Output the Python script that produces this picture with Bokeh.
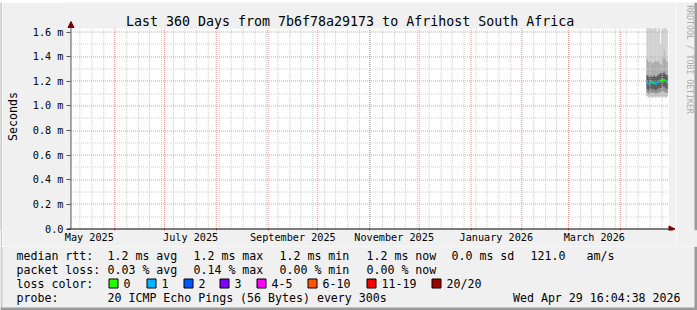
import math
import pandas as pd
from bokeh.plotting import figure
from bokeh.layouts import column, row
from bokeh.models import Arrow, NormalHead, DatetimeTickFormatter, FixedTicker, ColumnDataSource, Range1d
from bokeh.core.properties import value
from bokeh.embed import file_html
from bokeh.resources import INLINE

# ---------------- data ----------------
title_text = "Last 360 Days from 7b6f78a29173 to Afrihost South Africa"
watermark = "RRDTOOL / TOBI OETIKER"
x_start = "2025-05-05 11:00"
x_end = "2026-04-30 11:00"
now_stamp = "2026-04-29 16:04:38"

days = ["2026-04-17", "2026-04-18", "2026-04-19", "2026-04-20", "2026-04-21",
        "2026-04-22", "2026-04-23", "2026-04-24", "2026-04-25", "2026-04-26",
        "2026-04-27", "2026-04-28", "2026-04-29"]
median_ms = [1.185, 1.180, 1.190, 1.190, 1.185, 1.180, 1.190, 1.195, 1.205, 1.210, 1.210, 1.200, 1.190]
loss_pings = [1, 1, 1, 0, 1, 1, 1, 1, 0, 0, 0, 1, 0]
smoke_min = [1.08, 1.07, 1.08, 1.07, 1.08, 1.07, 1.08, 1.07, 1.08, 1.07, 1.08, 1.07, 1.08]
smoke_p10 = [1.11, 1.10, 1.11, 1.11, 1.11, 1.10, 1.11, 1.11, 1.12, 1.12, 1.12, 1.11, 1.11]
smoke_p25 = [1.14, 1.13, 1.14, 1.14, 1.14, 1.13, 1.14, 1.15, 1.15, 1.16, 1.16, 1.15, 1.14]
smoke_p75 = [1.25, 1.24, 1.25, 1.24, 1.25, 1.24, 1.25, 1.26, 1.27, 1.27, 1.28, 1.26, 1.25]
smoke_p90 = [1.38, 1.36, 1.37, 1.35, 1.36, 1.37, 1.36, 1.38, 1.34, 1.39, 1.46, 1.38, 1.36]
smoke_max = [1.66, 1.70, 1.64, 1.62, 1.66, 1.70, 1.60, 1.65, 1.50, 1.62, 1.68, 1.66, 1.62]

y_ticks = [0.0, 0.2, 0.4, 0.6, 0.8, 1.0, 1.2, 1.4, 1.6]
y_tick_labels = ["0.0", "0.2 m", "0.4 m", "0.6 m", "0.8 m", "1.0 m", "1.2 m", "1.4 m", "1.6 m"]
y_minor = [0.1, 0.3, 0.5, 0.7, 0.9, 1.1, 1.3, 1.5]
month_starts = ["2025-06-01", "2025-07-01", "2025-08-01", "2025-09-01",
                "2025-10-01", "2025-11-01", "2025-12-01", "2026-01-01", "2026-02-01",
                "2026-03-01", "2026-04-01"]
label_months = ["2025-05-01", "2025-07-01", "2025-09-01", "2025-11-01", "2026-01-01", "2026-03-01"]
first_sunday = "2025-05-11"

loss_colors = ["#26ff00", "#00b8ff", "#0059ff", "#7e00ff", "#ff00ff", "#ff5500", "#ff0000", "#a10000"]
loss_labels = ["0", "1", "2", "3", "4-5", "6-10", "11-19", "20/20"]

stats_rtt = ["1.2 ms avg", "1.2 ms max", "1.2 ms min", "1.2 ms now", "0.0 ms sd", "121.0", "am/s"]
stats_loss = ["0.03 % avg", "0.14 % max", "0.00 % min", "0.00 % now"]
probe_text = "20 ICMP Echo Pings (56 Bytes) every 300s"
stamp_text = "Wed Apr 29 16:04:38 2026"

# ---------------- geometry (canvas pixels) ----------------
W, H = 697, 310
MONO = "DejaVu Sans Mono"
BG = "#f0f0f0"
SHADE_A = "#cbcbcb"
SHADE_B = "#9a9a9a"
ROW_TOP, ROW_BOT = 2, 246          # main row spans canvas y 2..246
MAIN_L, MAIN_R = 2, 676            # main figure spans canvas x 2..676
FR_L, FR_R, FR_T, FR_B = 63, 675, 2, 230   # main frame in canvas px
AX_X, AX_Y = 67.5, 228.5           # axis lines (value origin)
PX_PER_MS_Y = 197.0 / 1.6          # pixels per millisecond of rtt
TEXT_DY = -3                       # baseline correction for text glyphs
X0 = pd.Timestamp(x_start).value / 1e6
X1 = pd.Timestamp(x_end).value / 1e6
MS_PER_PX_X = (X1 - X0) / 601.0


def ms(t):
    return pd.Timestamp(t).value / 1e6


def mx(px):
    return X0 + (px - AX_X) * MS_PER_PX_X


def my(py):
    return (AX_Y - py) / PX_PER_MS_Y


def snap_x(t):
    # rrdtool puts grid lines on whole pixel columns
    return mx(math.floor(AX_X + (t - X0) / MS_PER_PX_X) + 0.5)


def snap_y(v):
    return my(math.floor(AX_Y - v * PX_PER_MS_Y) + 0.5)


y_clip = my(28)

# ---------------- main chart ----------------
p = figure(width=MAIN_R - MAIN_L, height=ROW_BOT - ROW_TOP, output_backend="svg",
           toolbar_location=None, title=None, x_axis_type="datetime",
           x_range=Range1d(mx(FR_L), mx(FR_R)), y_range=Range1d(my(FR_B), my(FR_T)),
           min_border_left=FR_L - MAIN_L, min_border_right=MAIN_R - FR_R,
           min_border_top=FR_T - ROW_TOP, min_border_bottom=ROW_BOT - FR_B,
           background_fill_color=BG, border_fill_color=BG, outline_line_color=None)
p.xgrid.visible = False
p.ygrid.visible = False

# white canvas
p.quad(left=[X0], right=[X1], bottom=[0], top=[y_clip], fill_color="#ffffff",
       line_color=None, level="image")

# smoke
lefts = [ms(d) for d in days]
rights = [min(ms(d) + 86400000, ms(now_stamp)) for d in days]
src = ColumnDataSource(dict(left=lefts, right=rights, mn=smoke_min, p10=smoke_p10,
                            p25=smoke_p25, p75=smoke_p75, p90=smoke_p90,
                            mx=[min(v, y_clip) for v in smoke_max],
                            med_lo=[m - 0.009 for m in median_ms],
                            med_hi=[m + 0.009 for m in median_ms],
                            col=[loss_colors[l] for l in loss_pings]))
bands = [("mn", "p10", "#c2c2c2"), ("p10", "p25", "#909090"), ("p25", "p75", "#5c5c5c"),
         ("p75", "p90", "#acacac"), ("p90", "mx", "#d2d2d2")]
for lo, hi, c in bands:
    p.quad(left="left", right="right", bottom=lo, top=hi, source=src,
           fill_color=c, line_color=c, line_width=0.6, level="image")

# dotted grid lines (drawn over the smoke, as rrdtool does)
week_ticks = [snap_x(ms(t)) for t in pd.date_range(first_sunday, x_end, freq="7D")]
month_ticks_raw = [ms(t) for t in month_starts]
month_ticks = [snap_x(t) for t in month_ticks_raw]
minor_y = [snap_y(v) for v in y_minor]
major_y = [snap_y(v) for v in y_ticks[1:]]
GRID = "#cdcdcd"
MGRID = "#f09494"
p.segment(x0=week_ticks, x1=week_ticks, y0=[0] * len(week_ticks), y1=[y_clip] * len(week_ticks),
          line_color=GRID, line_width=1, line_dash="1 1", level="underlay")
p.segment(x0=[X0] * len(minor_y), x1=[X1] * len(minor_y), y0=minor_y, y1=minor_y,
          line_color=GRID, line_width=1, line_dash="1 1", level="underlay")
p.segment(x0=month_ticks, x1=month_ticks, y0=[0] * len(month_ticks), y1=[y_clip] * len(month_ticks),
          line_color=MGRID, line_width=1, line_dash="1 1", level="underlay")
p.segment(x0=[X0] * len(major_y), x1=[X1] * len(major_y), y0=major_y, y1=major_y,
          line_color=MGRID, line_width=1, line_dash="1 1", level="underlay")

# median line coloured by loss
p.quad(left="left", right="right", bottom="med_lo", top="med_hi", source=src,
       fill_color="col", line_color=None)

# title
p.text(x=[mx(348)], y=[my(24 + TEXT_DY)], text=[title_text], text_align="center",
       text_baseline="alphabetic", text_font=value(MONO), text_font_size="13.3px",
       text_color="#000000", level="annotation")

# axes
label_ticks = []
for m in label_months:
    a = pd.Timestamp(m)
    b = a + pd.offsets.MonthBegin(1)
    label_ticks.append(ms(a + (b - a) / 2))

xa = p.xaxis[0]
xa.ticker = FixedTicker(ticks=label_ticks, minor_ticks=month_ticks)
fmt = "%B %Y"
xa.formatter = DatetimeTickFormatter(microseconds=fmt, milliseconds=fmt, seconds=fmt,
                                     minsec=fmt, minutes=fmt, hourmin=fmt, hours=fmt,
                                     days=fmt, months=fmt, years=fmt)
xa.major_tick_out = 0
xa.major_tick_in = 0
xa.minor_tick_out = 0
xa.minor_tick_in = 2
xa.minor_tick_line_color = "#e07070"
xa.axis_line_color = None
xa.major_label_text_font = MONO
xa.major_label_text_font_size = "10.2px"
xa.major_label_text_color = "#000000"
xa.major_label_standoff = 1

ya = p.yaxis[0]
ya.ticker = FixedTicker(ticks=y_ticks)
ya.major_label_overrides = dict(zip(y_ticks, y_tick_labels))
ya.major_tick_out = 0
ya.major_tick_in = 4
ya.minor_tick_out = 0
ya.minor_tick_in = 0
ya.major_tick_line_color = "#555555"
ya.axis_line_color = None
ya.major_label_text_font = MONO
ya.major_label_text_font_size = "10.2px"
ya.major_label_text_color = "#000000"
ya.major_label_standoff = 3
ya.axis_label = "Seconds"
ya.axis_label_text_font = MONO
ya.axis_label_text_font_size = "11.6px"
ya.axis_label_text_font_style = "normal"
ya.axis_label_text_color = "#000000"
ya.axis_label_standoff = 10

p.add_layout(Arrow(end=NormalHead(size=6, fill_color="#7f0000", line_color="#7f0000"),
                   x_start=X0, y_start=0, x_end=X0, y_end=my(21),
                   line_color="#555555", line_width=1))
p.add_layout(Arrow(end=NormalHead(size=6, fill_color="#7f0000", line_color="#7f0000"),
                   x_start=mx(63), y_start=0, x_end=mx(674.5), y_end=0,
                   line_color="#000000", line_width=1))


# ---------------- helper for plain pixel panels ----------------
def panel(x0, x1, y0, y1, fill=BG):
    f = figure(width=x1 - x0, height=y1 - y0, output_backend="svg", toolbar_location=None,
               title=None, x_axis_location=None, y_axis_location=None,
               x_range=Range1d(x0, x1), y_range=Range1d(y1, y0),
               min_border=0, min_border_left=0, min_border_right=0,
               min_border_top=0, min_border_bottom=0,
               background_fill_color=fill, border_fill_color=fill, outline_line_color=None)
    f.xgrid.visible = False
    f.ygrid.visible = False
    return f


top_strip = panel(0, W, 0, ROW_TOP, SHADE_A)
top_strip.quad(left=[W - 3], right=[W], top=[0], bottom=[ROW_TOP], fill_color=SHADE_B, line_color=None)
left_strip = panel(0, MAIN_L, ROW_TOP, ROW_BOT, SHADE_A)
left_strip.quad(left=[0], right=[MAIN_L], top=[ROW_TOP], bottom=[ROW_BOT], fill_color=SHADE_A, line_color=None)

right_strip = panel(MAIN_R, W, ROW_TOP, ROW_BOT)
right_strip.quad(left=[W - 3], right=[W], top=[ROW_TOP], bottom=[ROW_BOT], fill_color=SHADE_B, line_color=None)
right_strip.text(x=[689], y=[5], text=[watermark], angle=-math.pi / 2, text_align="left",
                 text_baseline="middle", text_font=value(MONO), text_font_size="8.2px",
                 text_color="#ababab")

leg = panel(0, W, ROW_BOT, H)
leg.quad(left=[0], right=[2], top=[ROW_BOT], bottom=[H], fill_color=SHADE_A, line_color=None)
leg.quad(left=[W - 3], right=[W], top=[ROW_BOT], bottom=[H], fill_color=SHADE_B, line_color=None)
leg.quad(left=[0], right=[W], top=[H - 3], bottom=[H], fill_color=SHADE_B, line_color=None)

rows_y = [258 + TEXT_DY, 272 + TEXT_DY, 286 + TEXT_DY, 300 + TEXT_DY]
col_x = [107, 193, 279, 366, 451, 530, 586]
tx, ty, tt = [], [], []


def put(x, y, s):
    tx.append(x)
    ty.append(y)
    tt.append(s)


put(16, rows_y[0], "median rtt:")
for xx, s in zip(col_x, stats_rtt):
    put(xx, rows_y[0], s)
put(16, rows_y[1], "packet loss:")
for xx, s in zip(col_x, stats_loss):
    put(xx, rows_y[1], s)
put(16, rows_y[2], "loss color:")
sq_x = [108, 146, 183, 219, 256, 307, 366, 431]
for xx, s in zip(sq_x, loss_labels):
    put(xx + 15, rows_y[2], s)
put(16, rows_y[3], "probe:")
put(107, rows_y[3], probe_text)
leg.text(x=tx, y=ty, text=tt, text_align="left", text_baseline="alphabetic",
         text_font=value(MONO), text_font_size="11.6px", text_color="#000000")
leg.text(x=[680], y=[rows_y[3]], text=[stamp_text], text_align="right",
         text_baseline="alphabetic", text_font=value(MONO), text_font_size="11.6px",
         text_color="#000000")
leg.quad(left=[v + 0.5 for v in sq_x], right=[v + 9.5 for v in sq_x],
         top=[278.5] * 8, bottom=[287.5] * 8,
         fill_color=loss_colors, line_color="#000000", line_width=1)

layout = column(top_strip,
                row(left_strip, p, right_strip, spacing=0),
                leg, spacing=0)

open("out.html", "w").write(file_html(layout, INLINE))
